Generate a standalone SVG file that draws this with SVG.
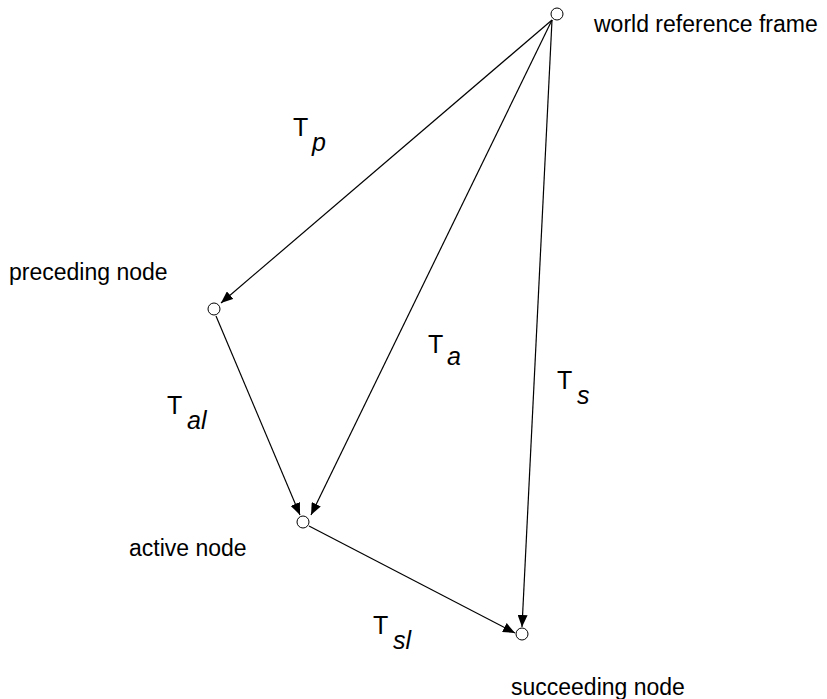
<svg xmlns="http://www.w3.org/2000/svg" width="827" height="699" viewBox="0 0 827 699">
<defs>
<marker id="ah" viewBox="0 0 12 10" refX="12" refY="5" markerWidth="12" markerHeight="10" markerUnits="userSpaceOnUse" orient="auto">
<path d="M0,0 L12,5 L0,10 Z" fill="#000"/>
</marker>
</defs>
<style>
.n{fill:#fff;stroke:#000;stroke-width:1}
.c{stroke:#000;stroke-width:1.2;fill:none;marker-end:url(#ah)}
.t{font-family:"Liberation Sans",Arial,sans-serif;font-size:23px;fill:#000}
.L{font-size:25px}
.s{font-style:italic}
</style>
<g id="connectors">
<line class="c" x1="552" y1="20" x2="221" y2="303"/>
<line class="c" x1="552" y1="20" x2="311" y2="515"/>
<line class="c" x1="552" y1="20" x2="522" y2="627"/>
<line class="c" x1="216" y1="316" x2="300" y2="515"/>
<line class="c" x1="309" y1="526" x2="515" y2="633"/>
</g>
<g id="world"><circle class="n" cx="557" cy="14" r="6"/><text class="t" x="594" y="32">world reference frame</text></g>
<g id="preceding"><circle class="n" cx="214" cy="309" r="6"/><text class="t" x="9" y="280">preceding node</text></g>
<g id="active"><circle class="n" cx="303" cy="522" r="6"/><text class="t" x="129" y="556">active node</text></g>
<g id="succeeding"><circle class="n" cx="522" cy="634" r="6"/><text class="t" x="511" y="695">succeeding node</text></g>
<g id="labels">
<text class="t L" x="293" y="136">T</text><text class="t L s" x="312" y="151">p</text>
<text class="t L" x="428" y="353">T</text><text class="t L s" x="447" y="365">a</text>
<text class="t L" x="557" y="389">T</text><text class="t L s" x="577" y="404">s</text>
<text class="t L" x="167" y="414">T</text><text class="t L s" x="187" y="429">al</text>
<text class="t L" x="373" y="634">T</text><text class="t L s" x="393" y="649">sl</text>
</g>
</svg>
